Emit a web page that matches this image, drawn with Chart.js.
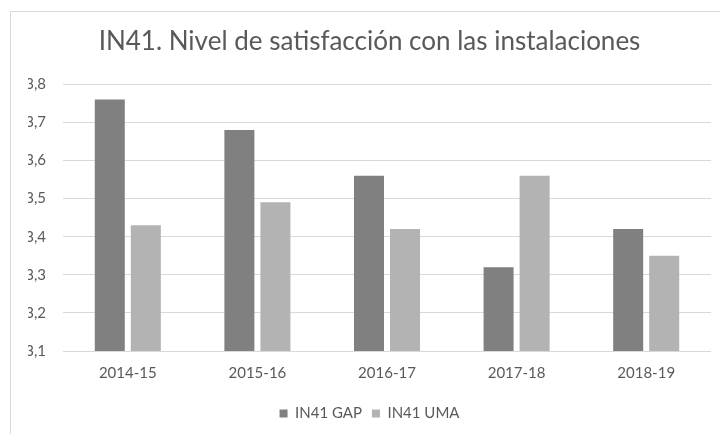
<!DOCTYPE html>
<html>
<head>
<meta charset="utf-8">
<script src="https://cdn.jsdelivr.net/npm/chart.js@4"></script>
<style>
  html, body { margin: 0; padding: 0; background: #fff; overflow: hidden; }
  #frame { position: absolute; left: 10px; top: 11px; width: 800px; height: 500px; border: 1px solid #d9d9d9; }
  #wrap { position: absolute; left: 0; top: 0; width: 720px; height: 434px; }
</style>
</head>
<body>
<div id="frame"></div>
<div id="wrap"><canvas id="plot-id"></canvas></div>
<script>
let years = ['2014-15', '2015-16', '2016-17', '2017-18', '2018-19'];
let gap_values = [3.76, 3.68, 3.56, 3.32, 3.42];
let uma_values = [3.43, 3.49, 3.42, 3.56, 3.35];
let series_names = ['IN41 GAP', 'IN41 UMA'];

Chart.defaults.font.family = 'Lato, "Open Sans", sans-serif';
Chart.defaults.color = '#595959';

var ctx = document.getElementById('plot-id');
var chart = new Chart(ctx, {
    type: 'bar',
    data: {
        labels: years,
        datasets: [
            {
                label: series_names[0],
                data: gap_values,
                backgroundColor: '#808080',
                categoryPercentage: 0.556,
                barPercentage: 0.833
            },
            {
                label: series_names[1],
                data: uma_values,
                backgroundColor: '#b3b3b3',
                categoryPercentage: 0.556,
                barPercentage: 0.833
            }
        ]
    },
    options: {
        responsive: true,
        maintainAspectRatio: false,
        animation: false,
        layout: { padding: { left: 28, right: 9, top: 0, bottom: 3 } },
        scales: {
            y: {
                min: 3.1,
                max: 3.8,
                ticks: {
                    stepSize: 0.1,
                    padding: 17,
                    font: { size: 15 },
                    callback: v => v.toFixed(1).replace('.', ',')
                },
                grid: { color: '#d9d9d9', drawTicks: false },
                border: { display: false },
                afterFit: scale => { scale.width = 35; }
            },
            x: {
                ticks: { padding: 13, font: { size: 15 } },
                grid: { display: false, drawTicks: false },
                border: { display: false },
                afterFit: scale => { scale.height = 45; }
            }
        },
        plugins: {
            title: {
                display: true,
                text: 'IN41. Nivel de satisfacción con las instalaciones',
                color: '#595959',
                font: { size: 26, weight: 'normal' },
                padding: { top: 26, bottom: 27 }
            },
            legend: {
                position: 'bottom',
                labels: { boxWidth: 8, boxHeight: 8, padding: 10, font: { size: 15 } }
            },
            tooltip: { enabled: false }
        }
    }
});
</script>
</body>
</html>
